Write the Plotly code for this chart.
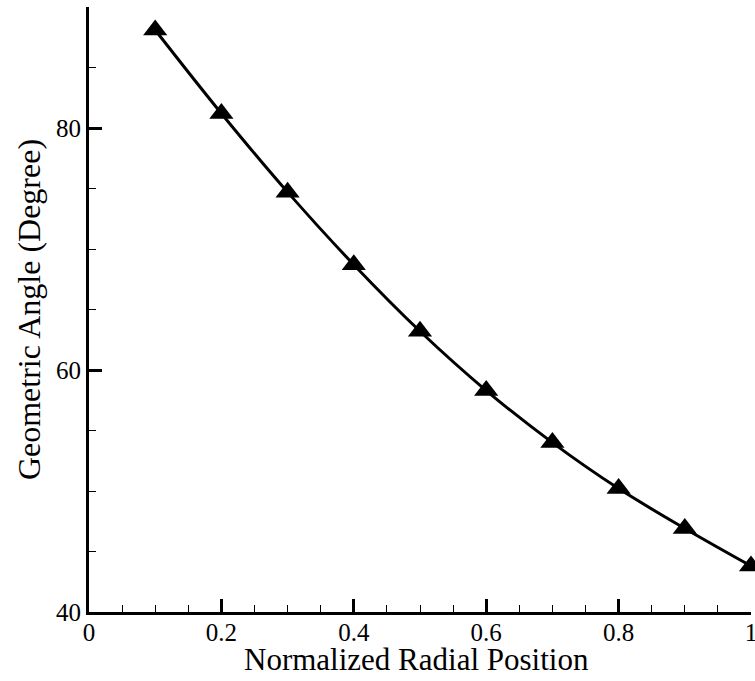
import plotly.graph_objects as go

# Radial stations along the blade and the geometric angle at each
radial_position = [0.1, 0.2, 0.3, 0.4, 0.5, 0.6, 0.7, 0.8, 0.9, 1.0]
geometric_angle = [88.1, 81.2, 74.7, 68.7, 63.2, 58.3, 54.0, 50.2, 46.9, 43.8]

x_tick_vals = [0, 0.2, 0.4, 0.6, 0.8, 1]
x_tick_text = ["0", "0.2", "0.4", "0.6", "0.8", "1"]
y_tick_vals = [40, 60, 80]
y_tick_text = ["40", "60", "80"]

serif = "Liberation Serif"

fig = go.Figure()
fig.add_trace(go.Scatter(
    x=radial_position,
    y=geometric_angle,
    mode="lines+markers",
    line=dict(color="black", width=3, shape="spline"),
    marker=dict(symbol="triangle-up", size=21, color="black"),
    showlegend=False,
    cliponaxis=False,
))

axis_common = dict(
    showgrid=False,
    zeroline=False,
    showline=True,
    linecolor="black",
    linewidth=3,
    ticks="inside",
    ticklen=13,
    tickwidth=3,
    tickcolor="black",
    tickfont=dict(family=serif, size=25, color="black"),
    ticklabeloverflow="allow",
    automargin=False,
    mirror=False,
)

fig.update_xaxes(
    **axis_common,
    range=[0, 1],
    tickvals=x_tick_vals,
    ticktext=x_tick_text,
    ticklabelstandoff=-4,
    minor=dict(dtick=0.05, ticks="inside", ticklen=7, tickwidth=1, tickcolor="black"),
)
fig.update_yaxes(
    **axis_common,
    range=[40, 90],
    tickvals=y_tick_vals,
    ticktext=y_tick_text,
    minor=dict(dtick=5, ticks="inside", ticklen=7, tickwidth=1, tickcolor="black"),
    title_text="Geometric Angle (Degree)",
    title_font=dict(family=serif, size=32, color="black"),
    title_standoff=6,
)

# x-axis title placed just under the tick labels
fig.add_annotation(
    text="Normalized Radial Position",
    xref="paper", yref="paper",
    x=0.495, y=-0.079,
    xanchor="center", yanchor="middle",
    showarrow=False,
    font=dict(family=serif, size=31, color="black"),
)

fig.update_layout(
    width=755,
    height=681,
    margin=dict(l=89, r=4, t=7, b=69),
    paper_bgcolor="white",
    plot_bgcolor="white",
)

fig.write_html("out.html")
